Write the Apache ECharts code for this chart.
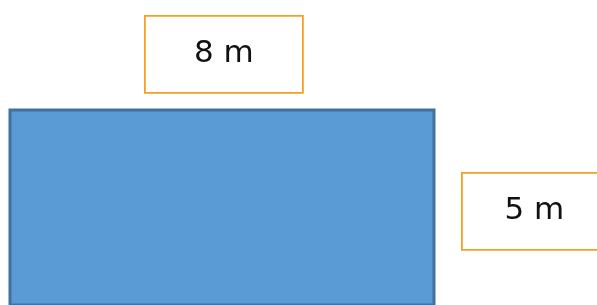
<!DOCTYPE html>
<html>
<head>
<meta charset="utf-8">
<script src="https://cdn.jsdelivr.net/npm/echarts@6/dist/echarts.min.js"></script>
<style>
  html, body { margin: 0; padding: 0; background: #fff; }
  #chart { width: 597px; height: 305px; }
</style>
</head>
<body>
<div id="chart"></div>
<script>
// rectangle dimensions (metres)
const rectWidth = 8
const rectHeight = 5
const unit = 'm'

const chart = echarts.init(document.getElementById('chart'))

// label box style
function labelBox(x, y, w, h, text) {
  return {
    type: 'group',
    left: x,
    top: y,
    children: [
      {
        type: 'rect',
        shape: { x: 0, y: 0, width: w, height: h },
        style: { fill: '#fff', stroke: '#f5a025', lineWidth: 1.8 }
      },
      {
        type: 'text',
        x: w / 2,
        y: h / 2,
        style: {
          text: text,
          fill: '#111',
          font: '31px "DejaVu Sans", sans-serif',
          align: 'center',
          verticalAlign: 'middle'
        }
      }
    ]
  }
}

const option = {
  animation: false,
  grid: { left: 10, right: 163, top: 110, bottom: -70 },
  xAxis: { type: 'value', min: 0, max: rectWidth, show: false },
  yAxis: { type: 'value', min: 0, max: rectHeight, show: false },
  series: [
    {
      type: 'custom',
      clip: false,
      data: [[0, 0, rectWidth, rectHeight]],
      renderItem: function (params, api) {
        const p0 = api.coord([api.value(0), api.value(3)])
        const p1 = api.coord([api.value(2), api.value(1)])
        return {
          type: 'rect',
          shape: { x: p0[0], y: p0[1], width: p1[0] - p0[0], height: p1[1] - p0[1] },
          style: { fill: '#5b9bd5', stroke: '#41719c', lineWidth: 3 }
        }
      }
    }
  ],
  graphic: [
    labelBox(144, 15, 158, 77, rectWidth + ' ' + unit),
    labelBox(461, 172, 145, 77, rectHeight + ' ' + unit)
  ]
}
chart.setOption(option)
</script>
</body>
</html>
